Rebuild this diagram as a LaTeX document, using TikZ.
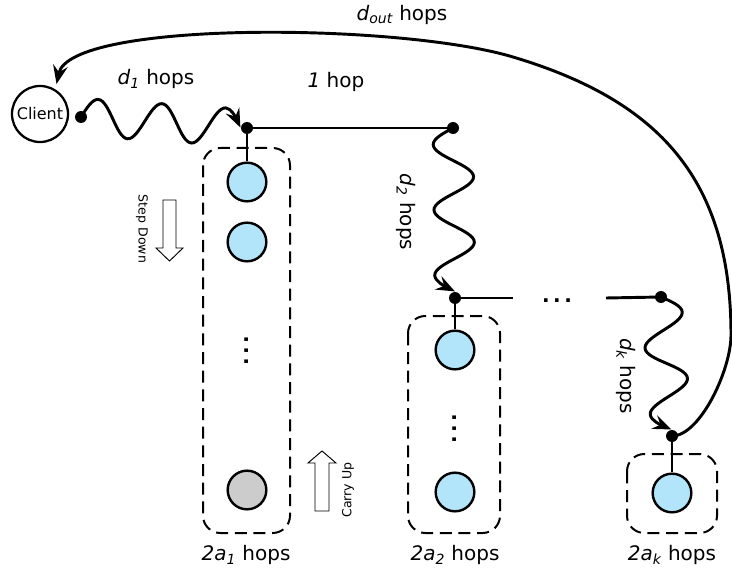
\documentclass[tikz,border=0pt]{standalone}
\usepackage{fontspec}
\setmainfont{DejaVu Sans}
\usetikzlibrary{arrows.meta,decorations}

% A sine wave made of a whole number of half-waves that exactly fills the path.
\pgfkeys{/pgf/decoration/.cd, halfwaves/.store in=\halfwavecount, halfwaves=4}
\pgfdeclaredecoration{sinewave}{crest}{
  \state{crest}[width=\pgfdecoratedpathlength/\halfwavecount-0.05pt, next state=trough]{
    \pgfmathsetlengthmacro\wq{(\pgfdecoratedpathlength/\halfwavecount-0.05pt)/2}
    \pgfmathsetlengthmacro\wa{\pgfdecorationsegmentamplitude}
    \pgfpathcurveto{\pgfpoint{0.31831*\wq}{0.5*(\wa)}}{\pgfpoint{0.63662*\wq}{\wa}}{\pgfpoint{\wq}{\wa}}
    \pgfpathcurveto{\pgfpoint{1.36338*\wq}{\wa}}{\pgfpoint{1.68169*\wq}{0.5*(\wa)}}{\pgfpoint{2*\wq}{0pt}}
  }
  \state{trough}[width=\pgfdecoratedpathlength/\halfwavecount-0.05pt, next state=crest]{
    \pgfmathsetlengthmacro\wq{(\pgfdecoratedpathlength/\halfwavecount-0.05pt)/2}
    \pgfmathsetlengthmacro\wa{-(\pgfdecorationsegmentamplitude)}
    \pgfpathcurveto{\pgfpoint{0.31831*\wq}{0.5*(\wa)}}{\pgfpoint{0.63662*\wq}{\wa}}{\pgfpoint{\wq}{\wa}}
    \pgfpathcurveto{\pgfpoint{1.36338*\wq}{\wa}}{\pgfpoint{1.68169*\wq}{0.5*(\wa)}}{\pgfpoint{2*\wq}{0pt}}
  }
  \state{final}{}
}

\definecolor{hostblue}{RGB}{178,228,250}
\definecolor{hostgray}{RGB}{204,204,204}

\tikzset{
  wire/.style={line width=2.2pt},
  tip/.style={-{Stealth[length=14pt,width=11pt,inset=5pt]}},
  wavy/.style 2 args={decorate, decoration={sinewave, halfwaves=#1, amplitude=#2}},
  jdot/.style={circle, fill=black, inner sep=0pt, minimum size=9pt},
  host/.style={circle, draw, line width=1.8pt, fill=hostblue, inner sep=0pt, minimum size=29pt},
  grouprect/.style={draw, line width=1.5pt, dash pattern=on 9pt off 5pt, rounded corners=13pt},
  lbl/.style={font=\fontsize{15}{18}\selectfont, inner sep=0pt},
  small/.style={font=\fontsize{9.4}{11}\selectfont, inner sep=0pt},
  ellip/.style={font=\fontsize{15}{18}\bfseries\selectfont, inner sep=0pt},
  blockarrow/.style={draw, line width=0.7pt, fill=white},
}

\begin{document}
\begin{tikzpicture}[x=0.75pt, y=-0.75pt]
\useasboundingbox (0,0) rectangle (732,574);

% groups of hosts
\draw[grouprect] (203,148) rectangle (290,533);
\draw[grouprect] (408,316) rectangle (500,533);
\draw[grouprect] (627,454) rectangle (717,533);

% client and junctions
\node[circle, draw, line width=1.7pt, minimum size=42pt, inner sep=0pt,
      font=\fontsize{12}{14}\selectfont] (client) at (40,114) {Client};
\node[jdot] (s1) at (81,117) {};
\node[jdot] (J1) at (247,128) {};
\node[jdot] (J2) at (453,128) {};
\node[jdot] (J3) at (455,298) {};
\node[jdot] (J4) at (661,297) {};
\node[jdot] (J5) at (672,436) {};
\coordinate (g1) at (513,298);
\coordinate (g2) at (606,298);

% waypoints of the return path
\coordinate (R) at (731,335);
\coordinate (T) at (513,57);

% hosts
\node[host] (c11) at (247,182) {};
\node[host] (c12) at (247,242) {};
\node[host, fill=hostgray] (c13) at (247,490) {};
\node[host] (c21) at (455,350) {};
\node[host] (c22) at (455,492) {};
\node[host] (c31) at (672,493) {};

\node[ellip, rotate=90] (v1) at (247,351) {.\kern2.6pt.\kern2.6pt.};
\node[ellip, rotate=90] (v2) at (455,429) {.\kern2.6pt.\kern2.6pt.};
\node[ellip] (h1) at (557,301) {.\kern2.6pt.\kern2.6pt.};

% links
\draw[wire] (J1.center) -- (J2.center);
\draw[wire] (J3.center) -- (g1);
\draw[wire] (g2) -- (J4.center);
\draw[wire] (J1.center) -- (c11);
\draw[wire] (J3.center) -- (c21);
\draw[wire] (J5.center) -- (c31);

% multi-hop paths
\draw[wire, tip, wavy={5}{14pt}] (s1.center) -- (J1);
\draw[wire, tip, wavy={5}{-15pt}] (J2.center) -- (J3);
\draw[wire, tip, wavy={4}{15pt}] (J4.center) -- (J5);
\draw[wire, tip, shorten >=4pt] (J5.center) .. controls (700,436) and (731,370) .. (R)
  .. controls (731,180) and (660,101) .. (T)
  .. controls (400,23) and (70,20) .. (client.58);

% step down / carry up
\draw[blockarrow] (163,200) -- (176,200) -- (176,248) -- (183,248) -- (169.5,261)
  -- (156,248) -- (163,248) -- cycle;
\draw[blockarrow] (315,511) -- (329,511) -- (329,463) -- (336,463) -- (322,451)
  -- (308,463) -- (315,463) -- cycle;
\node[small, rotate=-90] (sd) at (142,229) {Step Down};
\node[small, rotate=90] (cu) at (348,490) {Carry Up};

% labels
\node[lbl] (l1) at (156,79) {{\itshape d\textsubscript{1}} hops};
\node[lbl] (l2) at (336,82) {{\itshape 1} hop};
\node[lbl] (l3) at (402,15) {{\itshape d\textsubscript{out}} hops};
\node[lbl, rotate=-90] (l4) at (406,212) {{\itshape d\textsubscript{2}} hops};
\node[lbl, rotate=-90] (l5) at (626,376) {{\itshape d\textsubscript{k}} hops};
\node[lbl] (l6) at (246,555) {{\itshape 2a\textsubscript{1}} hops};
\node[lbl] (l7) at (455,555) {{\itshape 2a\textsubscript{2}} hops};
\node[lbl] (l8) at (672,555) {{\itshape 2a\textsubscript{k}} hops};
\end{tikzpicture}
\end{document}
